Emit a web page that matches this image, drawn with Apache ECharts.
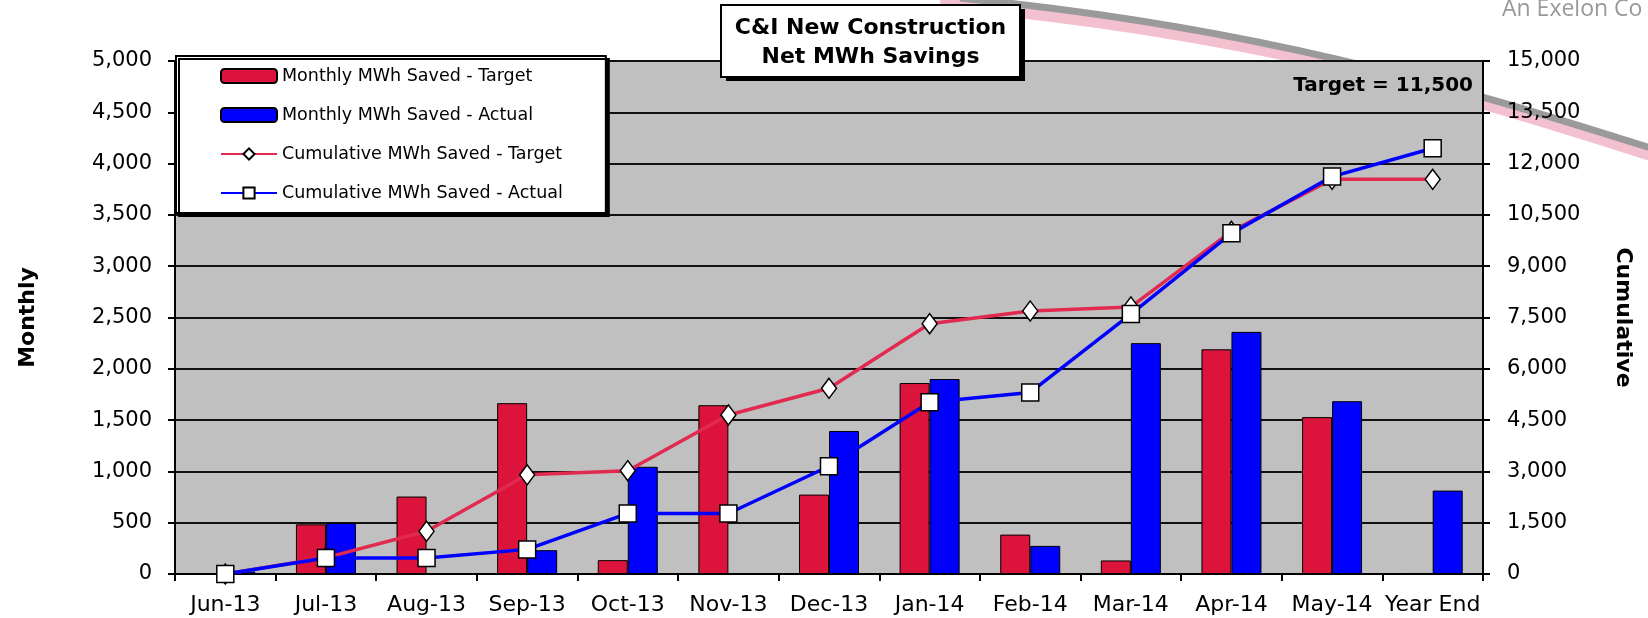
<!DOCTYPE html>
<html>
<head>
<meta charset="utf-8">
<script src="https://cdn.jsdelivr.net/npm/echarts@6/dist/echarts.min.js"></script>
<style>
  html, body { margin: 0; padding: 0; background: #fff; }
  #chart { width: 1648px; height: 618px; }
</style>
</head>
<body>
<div id="chart"></div>
<script>
// categories
const months = ["Jun-13", "Jul-13", "Aug-13", "Sep-13", "Oct-13", "Nov-13", "Dec-13",
  "Jan-14", "Feb-14", "Mar-14", "Apr-14", "May-14", "Year End"];

// monthly values (left axis)
const monthlyTarget = [0, 484, 755, 1665, 135, 1645, 774, 1861, 384, 132, 2190, 1529, 10];
const monthlyActual = [25, 497, 0, 232, 1045, 0, 1394, 1900, 274, 2250, 2360, 1684, 813];

// cumulative values (right axis)
const cumTarget = [0, 480, 1250, 2900, 3020, 4650, 5430, 7320, 7690, 7810, 10020, 11540, 11540];
const cumActual = [0, 470, 470, 720, 1770, 1770, 3150, 5020, 5310, 7600, 9960, 11620, 12450];

const fmt = v => v.toLocaleString("en-US");
const font = "DejaVu Sans, Liberation Sans, sans-serif";

const chart = echarts.init(document.getElementById("chart"));
chart.setOption({
  backgroundColor: "#fff",
  animation: false,
  textStyle: { fontFamily: font },
  legend: {
    orient: "vertical",
    left: 176,
    top: 56,
    padding: [10, 43, 10, 44],
    itemGap: 19,
    itemWidth: 56,
    itemHeight: 14,
    backgroundColor: "#fff",
    borderColor: "#000",
    borderWidth: 2,
    shadowColor: "#000",
    shadowOffsetX: 3,
    shadowOffsetY: 3,
    shadowBlur: 0,
    textStyle: { fontSize: 17.5, color: "#000", lineHeight: 20, fontFamily: font },
    data: [
      { name: "Monthly MWh Saved - Target", icon: "roundRect" },
      { name: "Monthly MWh Saved - Actual", icon: "roundRect" },
      "Cumulative MWh Saved - Target",
      "Cumulative MWh Saved - Actual"
    ]
  },
  grid: {
    left: 175,
    right: 165,
    top: 61,
    bottom: 44,
    show: true,
    backgroundColor: "#c0c0c0",
    borderWidth: 0
  },
  graphic: [
    // logo swoosh behind the plot
    {
      type: "bezierCurve",
      z: -10,
      silent: true,
      shape: { x1: 940, y1: 4, x2: 1660, y2: 158, cpx1: 1250, cpy1: 32, cpx2: 1450, cpy2: 90 },
      style: { stroke: "#f2c0cf", lineWidth: 12, fill: null }
    },
    {
      type: "bezierCurve",
      z: -9,
      silent: true,
      shape: { x1: 960, y1: -2, x2: 1660, y2: 151, cpx1: 1250, cpy1: 26, cpx2: 1450, cpy2: 84 },
      style: { stroke: "#9a9a9a", lineWidth: 7, fill: null }
    },
    {
      type: "text",
      silent: true,
      x: 1502,
      y: 21,
      style: { text: "An Exelon Co", fontSize: 23, fill: "#999", fontFamily: "Open Sans, sans-serif",
        verticalAlign: "bottom" }
    },
    // title box
    {
      type: "rect",
      z: 10,
      silent: true,
      shape: { x: 726, y: 9, width: 299, height: 72 },
      style: { fill: "#000" }
    },
    {
      type: "rect",
      z: 11,
      silent: true,
      shape: { x: 721, y: 5, width: 299, height: 72 },
      style: { fill: "#fff", stroke: "#000", lineWidth: 2 }
    },
    {
      type: "text",
      z: 12,
      silent: true,
      x: 870.5,
      y: 28,
      style: { text: "C&I New Construction", fontSize: 22, fontWeight: "bold", fill: "#000",
        fontFamily: font, align: "center", verticalAlign: "middle" }
    },
    {
      type: "text",
      z: 12,
      silent: true,
      x: 870.5,
      y: 57,
      style: { text: "Net MWh Savings", fontSize: 22, fontWeight: "bold", fill: "#000",
        fontFamily: font, align: "center", verticalAlign: "middle" }
    },
    {
      type: "text",
      z: 12,
      silent: true,
      x: 1473,
      y: 86,
      style: { text: "Target = 11,500", fontSize: 20, fontWeight: "bold", fill: "#000",
        fontFamily: font, align: "right", verticalAlign: "middle" }
    }
  ],
  xAxis: {
    type: "category",
    data: months,
    axisLine: { lineStyle: { color: "#000", width: 2 } },
    axisTick: { show: true, length: 7, lineStyle: { color: "#000", width: 2 } },
    axisLabel: { color: "#000", fontSize: 22, margin: 20, interval: 0 }
  },
  yAxis: [
    {
      type: "value",
      min: 0,
      max: 5000,
      interval: 500,
      name: "Monthly",
      nameLocation: "middle",
      nameRotate: 90,
      nameGap: 136,
      nameMoveOverlap: false,
      nameTextStyle: { fontSize: 22, fontWeight: "bold", color: "#000" },
      axisLine: { show: true, lineStyle: { color: "#000", width: 2 } },
      axisTick: { show: true, length: 7, lineStyle: { color: "#000", width: 2 } },
      axisLabel: { color: "#000", fontSize: 21, margin: 23, formatter: fmt },
      splitLine: { show: true, lineStyle: { color: "#111", width: 2 } }
    },
    {
      type: "value",
      min: 0,
      max: 15000,
      interval: 1500,
      name: "Cumulative",
      nameLocation: "middle",
      nameRotate: -90,
      nameGap: 129,
      nameMoveOverlap: false,
      nameTextStyle: { fontSize: 22, fontWeight: "bold", color: "#000" },
      axisLine: { show: true, lineStyle: { color: "#000", width: 2 } },
      axisTick: { show: true, length: 7, lineStyle: { color: "#000", width: 2 } },
      axisLabel: { color: "#000", fontSize: 21, margin: 24, formatter: fmt },
      splitLine: { show: false }
    }
  ],
  series: [
    {
      name: "Monthly MWh Saved - Target",
      type: "bar",
      yAxisIndex: 0,
      barWidth: 30,
      barGap: "0%",
      data: monthlyTarget,
      itemStyle: { color: "#dc143c", borderColor: "#000", borderWidth: 1 }
    },
    {
      name: "Monthly MWh Saved - Actual",
      type: "bar",
      yAxisIndex: 0,
      barWidth: 30,
      barGap: "0%",
      data: monthlyActual,
      itemStyle: { color: "#0000ff", borderColor: "#000", borderWidth: 1 }
    },
    {
      name: "Cumulative MWh Saved - Target",
      type: "line",
      yAxisIndex: 1,
      data: cumTarget,
      symbol: "diamond",
      symbolSize: [15, 20],
      lineStyle: { color: "#e2294f", width: 3.5 },
      itemStyle: { color: "#fff", borderColor: "#000", borderWidth: 1.5 },
      z: 3
    },
    {
      name: "Cumulative MWh Saved - Actual",
      type: "line",
      yAxisIndex: 1,
      data: cumActual,
      symbol: "rect",
      symbolSize: 17,
      lineStyle: { color: "#0000ff", width: 3.5 },
      itemStyle: { color: "#fff", borderColor: "#000", borderWidth: 1.5 },
      z: 4
    }
  ]
});
</script>
</body>
</html>
